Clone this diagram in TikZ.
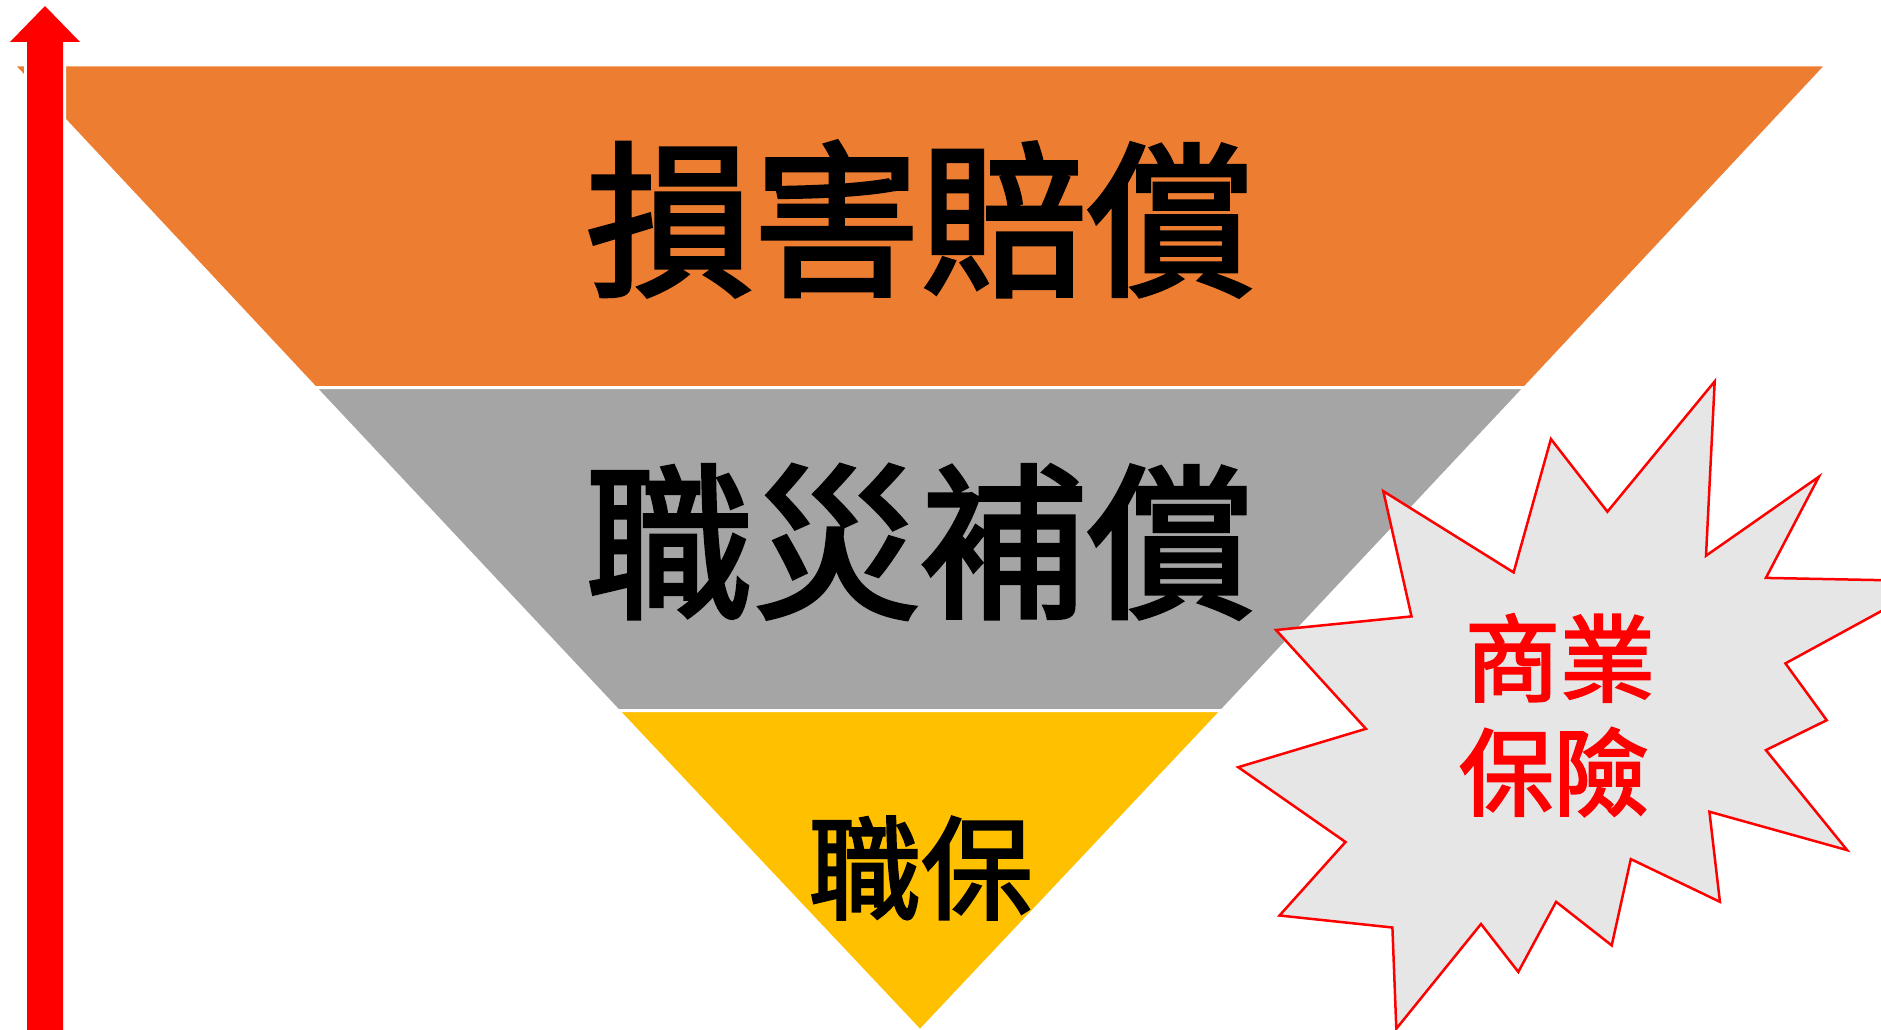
\documentclass[tikz,border=0pt]{standalone}
\usepackage{fontspec}
\newfontfamily\cjk{Noto Sans CJK TC}[FakeBold=2.5]
\definecolor{bandorange}{HTML}{ED7D31}
\definecolor{bandgray}{HTML}{A5A5A5}
\definecolor{bandyellow}{HTML}{FFC000}
\definecolor{burstfill}{HTML}{E6E6E6}
\definecolor{pure red}{HTML}{FF0000}
\tikzset{
  band/.style={draw=white, line width=3pt, line join=miter},
  bigtext/.style={font=\cjk\fontsize{167}{172}\selectfont, text=black, inner sep=0pt},
  midtext/.style={font=\cjk\fontsize{112}{118}\selectfont, text=black, inner sep=0pt},
  redtext/.style={font=\cjk\fontsize{95}{114}\selectfont, text=pure red, inner sep=0pt, align=center},
}
\begin{document}
\begin{tikzpicture}[x=1pt, y=-1pt]
\useasboundingbox (0,0) rectangle (1881,1030);
\clip (0,0) rectangle (1881,1030);
\fill[white] (0,0) rectangle (1881,1030);
% bands
\path[band, fill=bandorange] (13.4,65) -- (1826.6,65) -- (1525,387.5) -- (315,387.5) -- cycle;
\path[band, fill=bandgray] (315,387.5) -- (1525,387.5) -- (1222,710.5) -- (618,710.5) -- cycle;
\path[band, fill=bandyellow] (618,710.5) -- (1222,710.5) -- (920,1031) -- cycle;
% arrow: white halo, then red body
\path[draw=white, line width=6pt, line join=miter] (27,1045) -- (27,42) -- (10,42) -- (45,6) -- (80,42) -- (63,42) -- (63,1045) -- cycle;
\path[fill=pure red] (27,1045) -- (27,42) -- (10,42) -- (45,6) -- (80,42) -- (63,42) -- (63,1045) -- cycle;
% texts in bands
\node[bigtext] (t1) at (920,219) {損害賠償};
\node[bigtext] (t2) at (920,542) {職災補償};
\node[midtext] (t3) at (921,868) {職保};
% starburst
\path[draw=pure red, line width=2.5pt, fill=burstfill, line join=miter, miter limit=20]
 (1714.7,381.4) -- (1706,555.7) -- (1818.9,476.7) -- (1765.9,577.9) -- (1936,581.2)
 -- (1785.4,663.4) -- (1826.7,720.2) -- (1765.9,750.1) -- (1847.1,850.1) -- (1709.4,811.7)
 -- (1719.9,901.8) -- (1630.8,859.1) -- (1611.7,945.4) -- (1556.1,901.8) -- (1518.3,971.9)
 -- (1481,924) -- (1396.3,1028.7) -- (1392.4,927.5) -- (1279.5,915.5) -- (1345.5,842)
 -- (1238.2,767.2) -- (1365.9,728.8) -- (1276,630) -- (1411.5,616.4) -- (1383.3,491.2)
 -- (1513.6,572.4) -- (1550.9,439) -- (1607.4,511.7) -- cycle;
\node[redtext] (r1) at (1560,658) {商業};
\node[redtext] (r2) at (1554,772) {保險};
\end{tikzpicture}
\end{document}
